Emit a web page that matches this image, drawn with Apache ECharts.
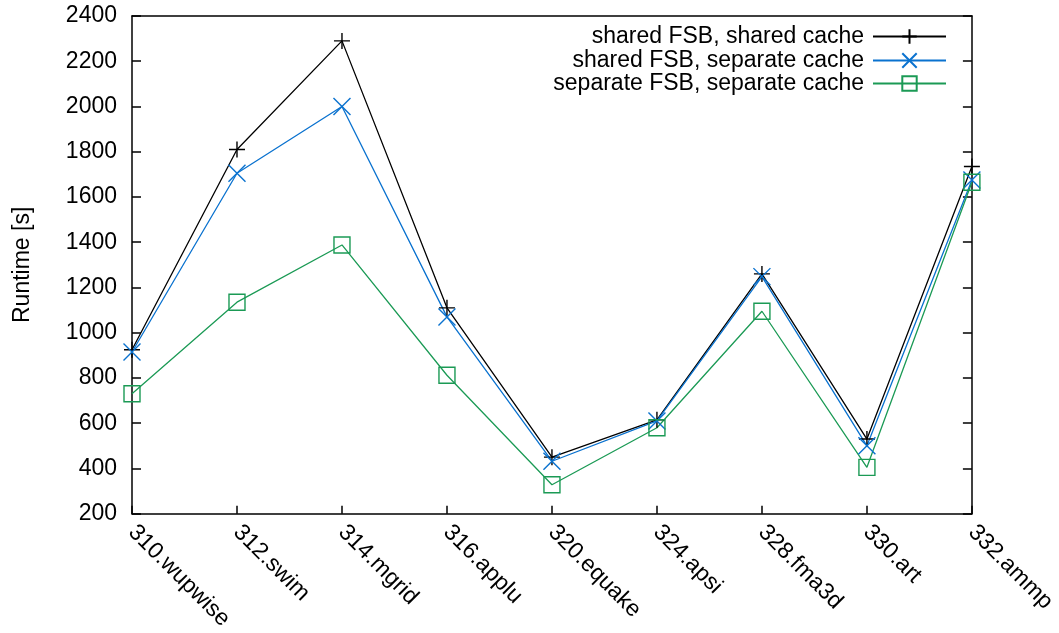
<!DOCTYPE html>
<html>
<head>
<meta charset="utf-8">
<script src="https://cdn.jsdelivr.net/npm/echarts@6/dist/echarts.min.js"></script>
<style>
  html, body { margin: 0; padding: 0; background: #fff; }
  #chart { width: 1059px; height: 633px; }
</style>
</head>
<body>
<div id="chart"></div>
<script>
// SPEC OMP2001 benchmark runtimes under three bus/cache configurations
const benchmarks = ['310.wupwise', '312.swim', '314.mgrid', '316.applu', '320.equake',
                    '324.apsi', '328.fma3d', '330.art', '332.ammp'];
const sharedFsbSharedCache     = [925, 1810, 2290, 1110, 450, 615, 1260, 530, 1735];
const sharedFsbSeparateCache   = [915, 1705, 2000, 1070, 432, 610, 1248, 500, 1675];
const separateFsbSeparateCache = [730, 1135, 1388, 812, 328, 580, 1095, 405, 1665];
const seriesNames = ['shared FSB, shared cache', 'shared FSB, separate cache', 'separate FSB, separate cache'];

const FONT = 'Liberation Sans, Arial, sans-serif';
const AXIS_LINE = { show: true, lineStyle: { color: '#000', width: 1.5 } };

const PLUS   = 'path://M5,0L5,10M0,5L10,5';
const CROSS  = 'path://M0,0L10,10M10,0L0,10';
const SQUARE = 'path://M0,0L10,0L10,10L0,10Z';

function lineSeries(name, data, color, symbol, size) {
  return {
    name: name,
    type: 'line',
    data: data,
    xAxisIndex: 0,
    yAxisIndex: 0,
    symbol: symbol,
    symbolSize: size,
    showAllSymbol: true,
    lineStyle: { color: color, width: 1.3 },
    itemStyle: { color: 'transparent', borderColor: color, borderWidth: 1.4 },
    emphasis: { disabled: true },
    animation: false,
    z: 3
  };
}

function legendRow(name, top) {
  return {
    data: [name],
    right: 112,
    top: top,
    padding: 0,
    align: 'right',
    itemWidth: 73,
    itemHeight: 18,
    itemGap: 0,
    textStyle: { fontFamily: FONT, fontSize: 23, color: '#000', lineHeight: 23, padding: [0, 4, 0, 0] },
    selectedMode: false
  };
}

const chart = echarts.init(document.getElementById('chart'), null, { renderer: 'canvas' });
chart.setOption({
  backgroundColor: '#fff',
  animation: false,
  grid: { left: 132, top: 16, right: 84, bottom: 117, containLabel: false },
  legend: [
    legendRow(seriesNames[0], 25),
    legendRow(seriesNames[1], 49),
    legendRow(seriesNames[2], 72)
  ],
  xAxis: [
    {
      type: 'category',
      data: benchmarks,
      boundaryGap: false,
      position: 'bottom',
      axisLine: AXIS_LINE,
      axisTick: { show: true, inside: true, length: 8, alignWithLabel: true, lineStyle: { color: '#000', width: 1.5 } },
      axisLabel: { rotate: -45, margin: 15, fontFamily: FONT, fontSize: 23, color: '#000', interval: 0 },
      splitLine: { show: false }
    },
    {
      type: 'category',
      data: benchmarks,
      boundaryGap: false,
      position: 'top',
      axisLine: AXIS_LINE,
      axisTick: { show: false },
      axisLabel: { show: false },
      splitLine: { show: false }
    }
  ],
  yAxis: [
    {
      type: 'value',
      min: 200, max: 2400, interval: 200,
      name: 'Runtime [s]',
      nameLocation: 'middle',
      nameGap: 98,
      nameTextStyle: { fontFamily: FONT, fontSize: 23, color: '#000' },
      axisLine: AXIS_LINE,
      axisTick: { show: true, inside: true, length: 9, lineStyle: { color: '#000', width: 1.5 } },
      axisLabel: { margin: 15, fontFamily: FONT, fontSize: 23, color: '#000', formatter: v => String(v) },
      splitLine: { show: false }
    },
    {
      type: 'value',
      position: 'right',
      min: 200, max: 2400, interval: 200,
      axisLine: AXIS_LINE,
      axisTick: { show: true, inside: true, length: 9, lineStyle: { color: '#000', width: 1.5 } },
      axisLabel: { show: false },
      splitLine: { show: false }
    }
  ],
  series: [
    lineSeries(seriesNames[0], sharedFsbSharedCache, '#000000', PLUS, 16),
    lineSeries(seriesNames[1], sharedFsbSeparateCache, '#0a72cf', CROSS, 17),
    lineSeries(seriesNames[2], separateFsbSeparateCache, '#1b9a55', SQUARE, 16)
  ]
});
</script>
</body>
</html>
